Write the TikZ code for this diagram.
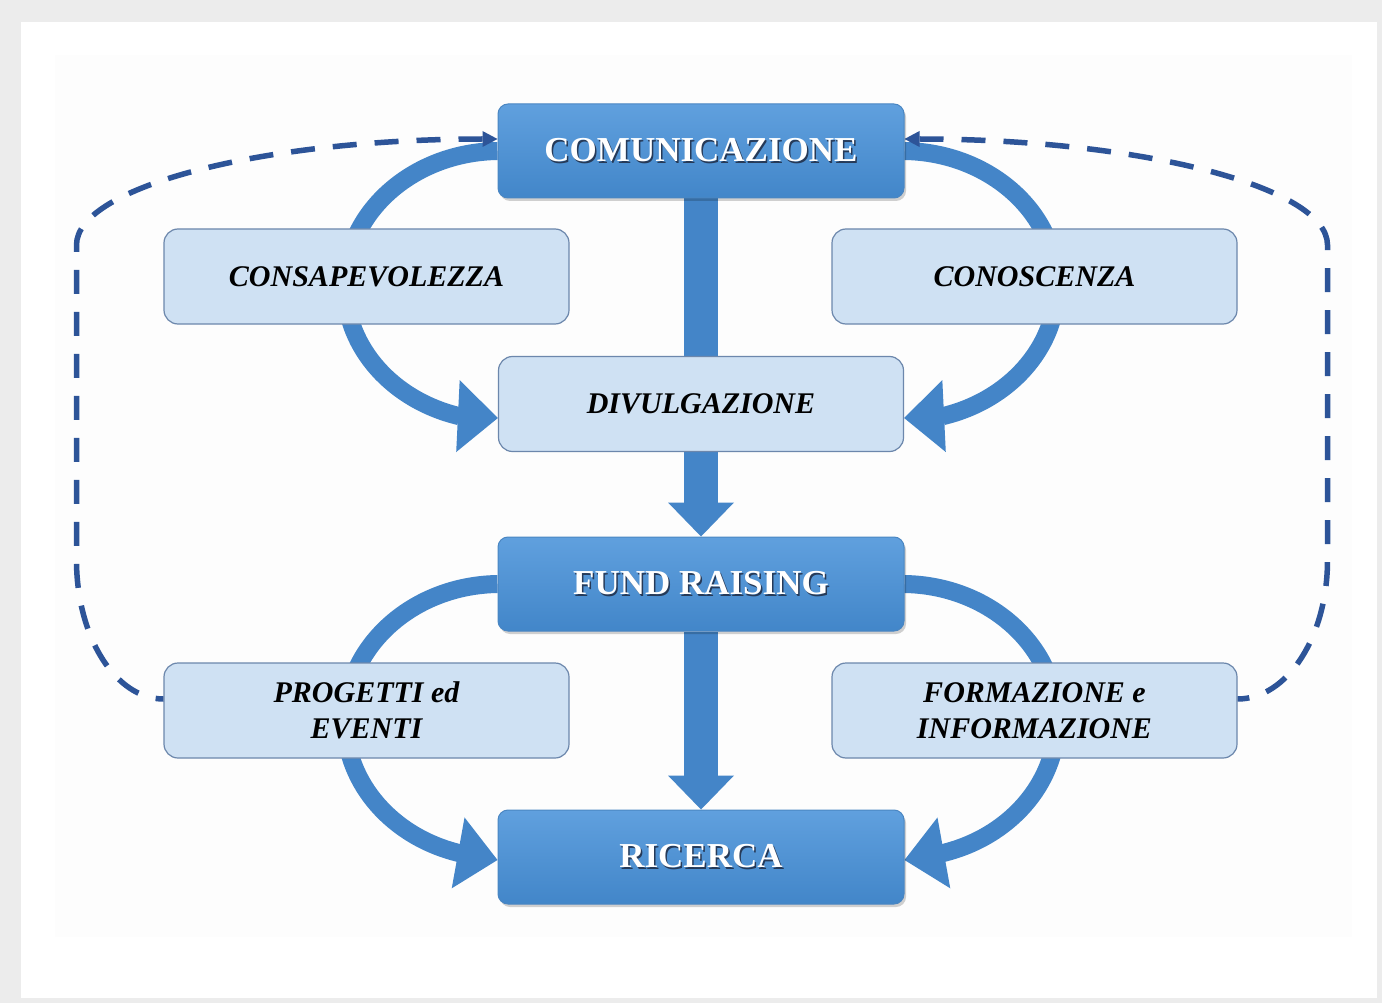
\documentclass[tikz,border=0pt]{standalone}
\usepackage{fontspec}
\setmainfont{Liberation Serif}
\usetikzlibrary{arrows.meta,shadows}

\definecolor{framegray}{RGB}{236,236,236}
\definecolor{panel}{RGB}{253,253,253}
\definecolor{darktop}{RGB}{96,160,222}
\definecolor{darkbot}{RGB}{66,134,201}
\definecolor{darkedge}{RGB}{74,134,194}
\definecolor{lightfill}{RGB}{207,225,243}
\definecolor{lightedge}{RGB}{108,135,172}
\definecolor{flow}{RGB}{68,133,200}
\definecolor{loopblue}{RGB}{45,84,152}
\definecolor{embossc}{RGB}{38,58,88}

% white label with a small dark offset copy underneath
\newcommand\embossed[1]{\makebox[0pt][l]{\hspace{1.5pt}\raisebox{-1.5pt}{\textcolor{embossc}{#1}}}#1}

\pgfdeclarelayer{canvas}
\pgfdeclarelayer{behind}
\pgfsetlayers{canvas,behind,main}

\tikzset{
  darkbox/.style={rounded corners=10pt, minimum width=406pt, minimum height=94pt,
    inner sep=0pt, top color=darktop, bottom color=darkbot, draw=darkedge,
    line width=1pt, text=white, font=\fontsize{35}{40}\selectfont\bfseries,
    drop shadow={shadow xshift=2pt, shadow yshift=-3pt, fill=black, opacity=0.18}},
  lightbox/.style={rounded corners=14pt, minimum width=405pt, minimum height=95pt,
    inner sep=0pt, fill=lightfill, draw=lightedge, line width=1.2pt, text=black,
    align=center, font=\fontsize{30}{36}\selectfont\bfseries\itshape},
  sweep/.style={draw=flow, line width=18pt,
    -{Triangle[width=72pt,length=40pt,line width=0pt]}},
  trunk/.style={draw=flow, line width=34pt},
  trunkarrow/.style={trunk, -{Triangle[width=66pt,length=34pt,line width=0pt]}},
  loopback/.style={draw=loopblue, line width=5.5pt, dash pattern=on 24pt off 18pt,
    {Triangle[width=16pt,length=15pt,line width=0pt]}-},
}

\begin{document}
\begin{tikzpicture}[x=1pt,y=1pt]
\useasboundingbox (0,0) rectangle (1382,-1003);

% page frame
\begin{pgfonlayer}{canvas}
  \fill[framegray] (0,0) rectangle (1382,-1003);
  \fill[white] (21,-22) rectangle (1377,-998);
  \fill[panel] (55,-55) rectangle (1352,-937);
\end{pgfonlayer}

% boxes
\node[darkbox]  (comm)   at (701,-151)    {\embossed{COMUNICAZIONE}};
\node[lightbox] (consap) at (366.5,-276.5) {CONSAPEVOLEZZA};
\node[lightbox] (conosc) at (1034.5,-276.5) {CONOSCENZA};
\node[lightbox] (divul)  at (701,-404)    {DIVULGAZIONE};
\node[darkbox]  (fund)   at (701,-584)    {\embossed{FUND RAISING}};
\node[lightbox] (prog)   at (366.5,-710.5) {PROGETTI ed\\EVENTI};
\node[lightbox] (form)   at (1034.5,-710.5) {FORMAZIONE e\\INFORMAZIONE};
\node[darkbox]  (ric)    at (701,-857)    {\embossed{RICERCA}};

\begin{pgfonlayer}{behind}
  % central trunk
  \draw[trunk] (comm) -- (divul);
  \draw[trunkarrow] (divul) -- (fund);
  \draw[trunkarrow] (fund) -- (ric);

  % side sweeps, passing behind the side boxes
  \draw[sweep] (comm.west) arc[start angle=91, end angle=254.6, x radius=155, y radius=135]
    -- ([yshift=-14pt]divul.west);
  \draw[sweep] (comm.east) arc[start angle=89, end angle=-74.6, x radius=155, y radius=135]
    -- ([yshift=-14pt]divul.east);
  \draw[sweep] (fund.west) arc[start angle=91, end angle=254.6, x radius=155, y radius=137]
    -- ([yshift=-3pt]ric.west);
  \draw[sweep] (fund.east) arc[start angle=89, end angle=-74.6, x radius=155, y radius=137]
    -- ([yshift=-3pt]ric.east);

  % dashed feedback loops back to the top
  \draw[loopback] ([yshift=12pt]comm.west)
    arc[start angle=90, end angle=180, x radius=421, y radius=106]
    -- ++(0,-315)
    arc[start angle=180, end angle=270, x radius=87, y radius=139]
    -- ([yshift=11.5pt]prog.west);
  \draw[loopback] ([yshift=12pt]comm.east)
    arc[start angle=90, end angle=0, x radius=423, y radius=106]
    -- ++(0,-315)
    arc[start angle=0, end angle=-90, x radius=90, y radius=139]
    -- ([yshift=11.5pt]form.east);
\end{pgfonlayer}
\end{tikzpicture}
\end{document}
